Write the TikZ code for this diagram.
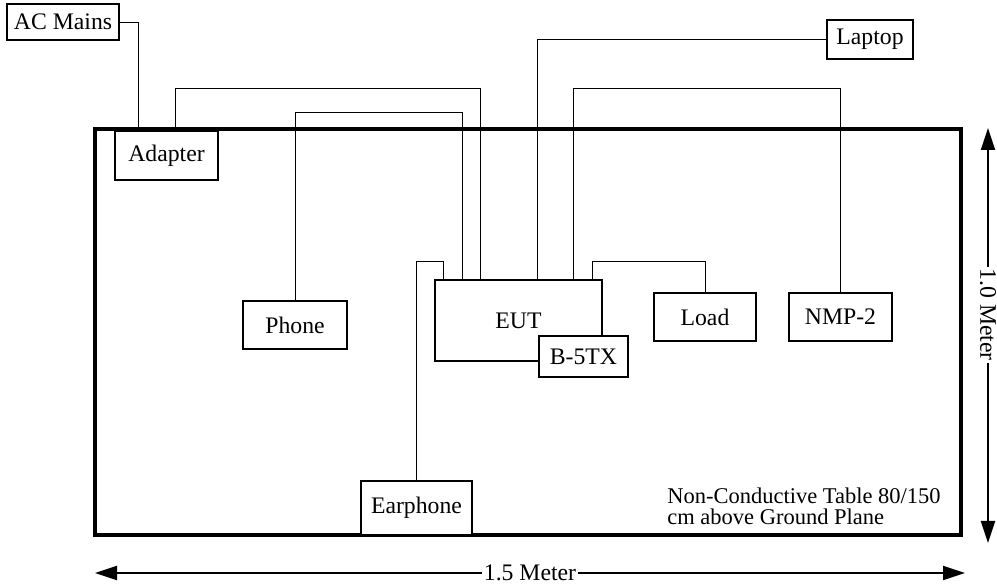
\documentclass[tikz,border=0pt]{standalone}
\usepackage{fontspec}
\setmainfont{Liberation Serif}
\usetikzlibrary{arrows.meta, positioning, calc}

\begin{document}
\begin{tikzpicture}[>={Triangle[length=0.44cm, width=0.28cm]},
  unit/.style={rectangle, draw, line width=0.8pt, fill=white, inner sep=0pt,
    font=\fontsize{13.5}{15}\selectfont},
  cable/.style={draw, line width=0.55pt},
  tabletop/.style={rectangle, draw, line width=1.8pt, inner sep=0pt},
  dimline/.style={<->, line width=1.1pt},
  dimlabel/.style={fill=white, inner sep=1pt, font=\fontsize{13.5}{15}\selectfont}]
  \useasboundingbox (0,0) rectangle (19.94,11.7);

  % the table
  \node[tabletop, minimum width=17.32cm, minimum height=8.12cm] (table) at (10.56,5.06) {};
  \node[anchor=north west, inner sep=0pt, align=left, font=\fontsize{12.8}{11.8}\selectfont]
    (tablenote) at (13.34,1.94) {Non-Conductive Table 80/150\\cm above Ground Plane};

  % units
  \node[unit, minimum width=2.24cm, minimum height=0.72cm] (acmains) at (1.26,11.26) {AC Mains};
  \node[unit, minimum width=2.06cm, minimum height=0.98cm] (adapter) at (3.33,8.59) {Adapter};
  \node[unit, minimum width=1.72cm, minimum height=0.78cm] (laptop) at (17.4,10.91) {Laptop};
  \node[unit, minimum width=2.08cm, minimum height=0.96cm] (phone) at (5.9,5.2) {Phone};
  \node[unit, minimum width=3.34cm, minimum height=1.62cm] (eut) at (10.37,5.29) {EUT};
  \node[unit, minimum width=1.78cm, minimum height=0.82cm] (btx) at (11.67,4.57) {B-5TX};
  \node[unit, minimum width=2.04cm, minimum height=0.96cm] (load) at (14.1,5.36) {Load};
  \node[unit, minimum width=2.06cm, minimum height=0.96cm] (nmp) at (16.81,5.36) {NMP-2};
  \node[unit, minimum width=2.22cm, minimum height=1.08cm] (earphone) at (8.33,1.54) {Earphone};

  % cables
  \draw[cable] (acmains.east) -| ([xshift=-0.57cm]adapter.north);
  \draw[cable] ([xshift=0.17cm]adapter.north) -- ++(0,0.84) -| ([xshift=0.92cm]eut.north west);
  \draw[cable] (phone.north) -- ++(0,3.76) -| ([xshift=0.56cm]eut.north west);
  \draw[cable] (earphone.north) -- ++(0,4.38) -| ([xshift=0.18cm]eut.north west);
  \draw[cable] (laptop.west) -| ([xshift=2.06cm]eut.north west);
  \draw[cable] (nmp.north) -- ++(0,4.08) -| ([xshift=2.78cm]eut.north west);
  \draw[cable] (load.north) -- ++(0,0.62) -| ([xshift=3.16cm]eut.north west);

  % dimensions
  \coordinate (htail) at (1.9,0.24);
  \coordinate (hhead) at (19.3,0.24);
  \coordinate (vtail) at (19.76,9.14);
  \coordinate (vhead) at (19.76,0.84);
  \draw[dimline] (htail) -- (hhead) node[dimlabel, midway] {1.5 Meter};
  \draw[dimline] (vtail) -- (vhead) node[dimlabel, pos=0.45, rotate=-90] {1.0 Meter};
\end{tikzpicture}
\end{document}
